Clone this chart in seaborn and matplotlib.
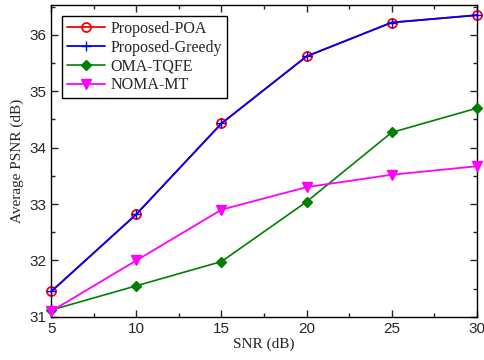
import matplotlib
matplotlib.use("Agg")
import matplotlib.pyplot as plt
import seaborn as sns
import pandas as pd
from matplotlib.ticker import MultipleLocator

snr = [5, 10, 15, 20, 25, 30]
poa = [31.45, 32.82, 34.43, 35.62, 36.22, 36.35]
greedy = [31.45, 32.82, 34.43, 35.62, 36.22, 36.35]
oma = [31.12, 31.55, 31.98, 33.04, 34.27, 34.70]
noma = [31.10, 32.00, 32.90, 33.30, 33.52, 33.67]

series = {
    "Proposed-POA": poa,
    "Proposed-Greedy": greedy,
    "OMA-TQFE": oma,
    "NOMA-MT": noma,
}
rows = []
for name, vals in series.items():
    for x, v in zip(snr, vals):
        rows.append({"SNR": x, "PSNR": v, "Method": name})
df = pd.DataFrame(rows)

sns.set_style("ticks")
plt.rcParams["font.family"] = ["Liberation Sans", "DejaVu Sans"]

fig = plt.figure(figsize=(4.84, 3.6), dpi=100)
ax = fig.add_axes([0.106, 0.12, 0.879, 0.866])

styles = {
    "Proposed-POA": dict(color="#ff0000", marker="o", mfc="none", mec="#ff0000", ms=6.5, mew=1.3, lw=1.3),
    "Proposed-Greedy": dict(color="#0000ff", marker="+", ms=7, mew=1.0, lw=1.3),
    "OMA-TQFE": dict(color="#008000", marker="D", mfc="#008000", mec="#008000", ms=5, lw=1.2),
    "NOMA-MT": dict(color="#ff00ff", marker="v", mfc="#ff00ff", mec="#ff00ff", ms=6.5, lw=1.3),
}
for name in series:
    sub = df[df["Method"] == name]
    st = styles[name]
    sns.lineplot(data=sub, x="SNR", y="PSNR", ax=ax, label=name,
                 color=st["color"], lw=st["lw"], marker=st["marker"],
                 markersize=st["ms"], markerfacecolor=st.get("mfc", st["color"]),
                 markeredgecolor=st.get("mec", st["color"]),
                 markeredgewidth=st.get("mew", 1.0), clip_on=False, zorder=3)

ax.set_xlim(5, 30)
ax.set_ylim(31, 36.53)
ax.xaxis.set_major_locator(MultipleLocator(5))
ax.xaxis.set_minor_locator(MultipleLocator(2.5))
ax.yaxis.set_major_locator(MultipleLocator(1))
ax.yaxis.set_minor_locator(MultipleLocator(0.5))
ax.tick_params(which="both", direction="in", top=True, right=True, labelsize=11, width=1.0)
ax.tick_params(which="major", length=5)
ax.tick_params(which="minor", length=3)
for s in ax.spines.values():
    s.set_linewidth(1.0)
    s.set_color("black")

ax.set_xlabel("SNR (dB)", family=["Liberation Serif"], fontsize=11, labelpad=1)
ax.set_ylabel("Average PSNR (dB)", family=["Liberation Serif"], fontsize=11, labelpad=4)

leg = ax.legend(loc="upper left", bbox_to_anchor=(0.026, 0.965), frameon=True,
                fancybox=False, edgecolor="black", framealpha=1,
                prop={"family": "Liberation Serif", "size": 11.5},
                handlelength=2.4, handletextpad=0.3, labelspacing=0.18,
                borderpad=0.3, borderaxespad=0)
leg.get_frame().set_linewidth(1.0)

fig.savefig("out.png", dpi=100)
